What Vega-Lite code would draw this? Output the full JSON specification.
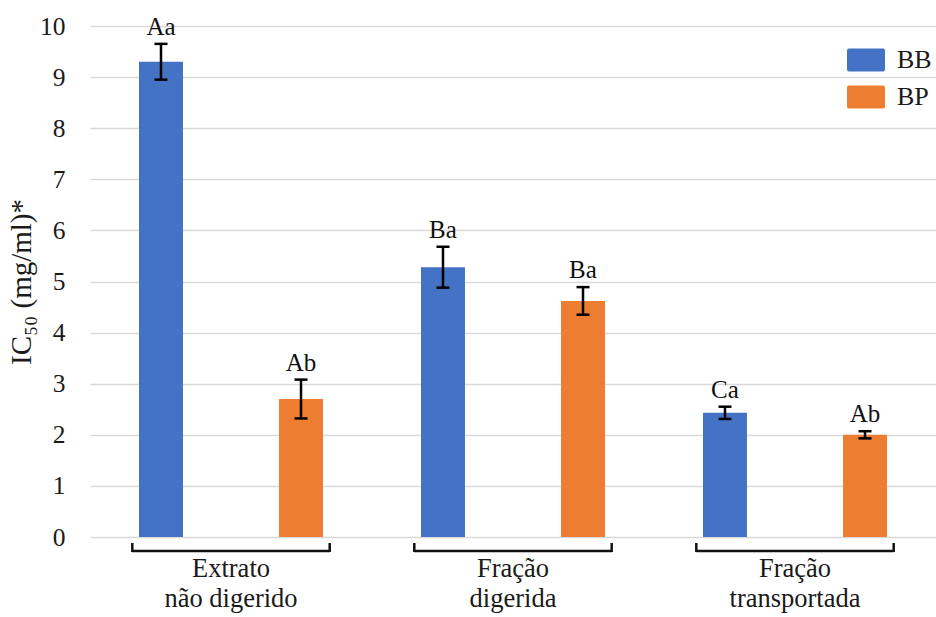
{
  "$schema": "https://vega.github.io/schema/vega-lite/v6.json",
  "width": 846,
  "height": 511,
  "autosize": {"type": "none"},
  "padding": {"left": 90, "top": 26, "right": 0, "bottom": 80},
  "background": "white",
  "config": {
    "view": {"stroke": null},
    "font": "Liberation Serif",
    "text": {"font": "Liberation Serif"}
  },
  "datasets": {
    "ic50": [
      {"grupo": "Extrato|não digerido", "amostra": "BB", "ic50": 9.30, "inf": 8.95, "sup": 9.65, "letra": "Aa"},
      {"grupo": "Extrato|não digerido", "amostra": "BP", "ic50": 2.70, "inf": 2.32, "sup": 3.08, "letra": "Ab"},
      {"grupo": "Fração|digerida", "amostra": "BB", "ic50": 5.28, "inf": 4.88, "sup": 5.68, "letra": "Ba"},
      {"grupo": "Fração|digerida", "amostra": "BP", "ic50": 4.62, "inf": 4.35, "sup": 4.89, "letra": "Ba"},
      {"grupo": "Fração|transportada", "amostra": "BB", "ic50": 2.43, "inf": 2.31, "sup": 2.55, "letra": "Ca"},
      {"grupo": "Fração|transportada", "amostra": "BP", "ic50": 2.00, "inf": 1.93, "sup": 2.07, "letra": "Ab"}
    ],
    "grupos": [
      {"grupo": "Extrato|não digerido"},
      {"grupo": "Fração|digerida"},
      {"grupo": "Fração|transportada"}
    ]
  },
  "encoding": {
    "x": {
      "field": "grupo",
      "type": "nominal",
      "sort": null,
      "scale": {"paddingInner": 0, "paddingOuter": 0},
      "axis": {
        "title": null,
        "domain": false,
        "ticks": false,
        "labelAngle": 0,
        "labelExpr": "split(datum.value, '|')",
        "labelFont": "Liberation Serif",
        "labelFontSize": 26.5,
        "labelColor": "#1a1a1a",
        "labelLineHeight": 30,
        "labelPadding": 18
      }
    }
  },
  "layer": [
    {
      "data": {"name": "ic50"},
      "mark": {"type": "bar"},
      "encoding": {
        "xOffset": {"field": "amostra", "type": "nominal", "scale": {"paddingInner": 0.686, "paddingOuter": 0.35}},
        "y": {
          "field": "ic50",
          "type": "quantitative",
          "scale": {"domain": [0, 10], "nice": false},
          "axis": {
            "title": "IC₅₀ (mg/ml)*",
            "titleFont": "Liberation Serif",
            "titleFontSize": 29,
            "titleFontWeight": "normal",
            "titleColor": "#1a1a1a",
            "titlePadding": 3,
            "values": [0, 1, 2, 3, 4, 5, 6, 7, 8, 9, 10],
            "labelFont": "Liberation Serif",
            "labelFontSize": 25.5,
            "labelColor": "#1a1a1a",
            "labelPadding": 25,
            "domain": false,
            "ticks": false,
            "gridColor": "#d9d9d9",
            "gridWidth": 1.3
          }
        },
        "color": {
          "field": "amostra",
          "type": "nominal",
          "scale": {"domain": ["BB", "BP"], "range": ["#4472C4", "#ED7D31"]},
          "legend": {
            "title": null,
            "orient": "none",
            "legendX": 757,
            "legendY": 15,
            "symbolType": "M-0.9,-0.605H0.9Q1,-0.605 1,-0.505V0.505Q1,0.605 0.9,0.605H-0.9Q-1,0.605 -1,0.505V-0.505Q-1,-0.605 -0.9,-0.605Z",
            "symbolSize": 1444,
            "symbolStrokeWidth": 0,
            "symbolOpacity": 1,
            "labelFont": "Liberation Serif",
            "labelFontSize": 26,
            "labelColor": "#1a1a1a",
            "labelOffset": 12,
            "rowPadding": 5
          }
        }
      }
    },
    {
      "data": {"name": "ic50"},
      "mark": {"type": "rule", "color": "black", "strokeWidth": 2.5},
      "encoding": {
        "xOffset": {"field": "amostra", "type": "nominal"},
        "y": {"field": "inf", "type": "quantitative"},
        "y2": {"field": "sup"}
      }
    },
    {
      "data": {"name": "ic50"},
      "layer": [
        {
          "mark": {"type": "point", "shape": "stroke", "size": 169, "filled": false, "color": "black", "strokeWidth": 2.5, "opacity": 1},
          "encoding": {
            "xOffset": {"field": "amostra", "type": "nominal"},
            "y": {"field": "inf", "type": "quantitative"}
          }
        },
        {
          "mark": {"type": "point", "shape": "stroke", "size": 169, "filled": false, "color": "black", "strokeWidth": 2.5, "opacity": 1},
          "encoding": {
            "xOffset": {"field": "amostra", "type": "nominal"},
            "y": {"field": "sup", "type": "quantitative"}
          }
        }
      ]
    },
    {
      "data": {"name": "ic50"},
      "mark": {"type": "text", "font": "Liberation Serif", "fontSize": 25, "color": "#111", "baseline": "alphabetic", "dy": -9},
      "encoding": {
        "xOffset": {"field": "amostra", "type": "nominal"},
        "y": {"field": "sup", "type": "quantitative"},
        "text": {"field": "letra"}
      }
    },
    {
      "data": {"name": "grupos"},
      "mark": {"type": "rule", "color": "#111", "strokeWidth": 2.5, "yOffset": 14, "clip": false},
      "encoding": {
        "x": {"field": "grupo", "type": "nominal", "sort": null, "bandPosition": 0.15},
        "x2": {"field": "grupo", "bandPosition": 0.85},
        "y": {"datum": 0}
      }
    },
    {
      "data": {"name": "grupos"},
      "mark": {"type": "rule", "color": "#111", "strokeWidth": 2.5, "yOffset": 6, "y2Offset": 15, "clip": false},
      "encoding": {
        "x": {"field": "grupo", "type": "nominal", "sort": null, "bandPosition": 0.15},
        "y": {"datum": 0},
        "y2": {"datum": 0}
      }
    },
    {
      "data": {"name": "grupos"},
      "mark": {"type": "rule", "color": "#111", "strokeWidth": 2.5, "yOffset": 6, "y2Offset": 15, "clip": false},
      "encoding": {
        "x": {"field": "grupo", "type": "nominal", "sort": null, "bandPosition": 0.85},
        "y": {"datum": 0},
        "y2": {"datum": 0}
      }
    }
  ]
}
